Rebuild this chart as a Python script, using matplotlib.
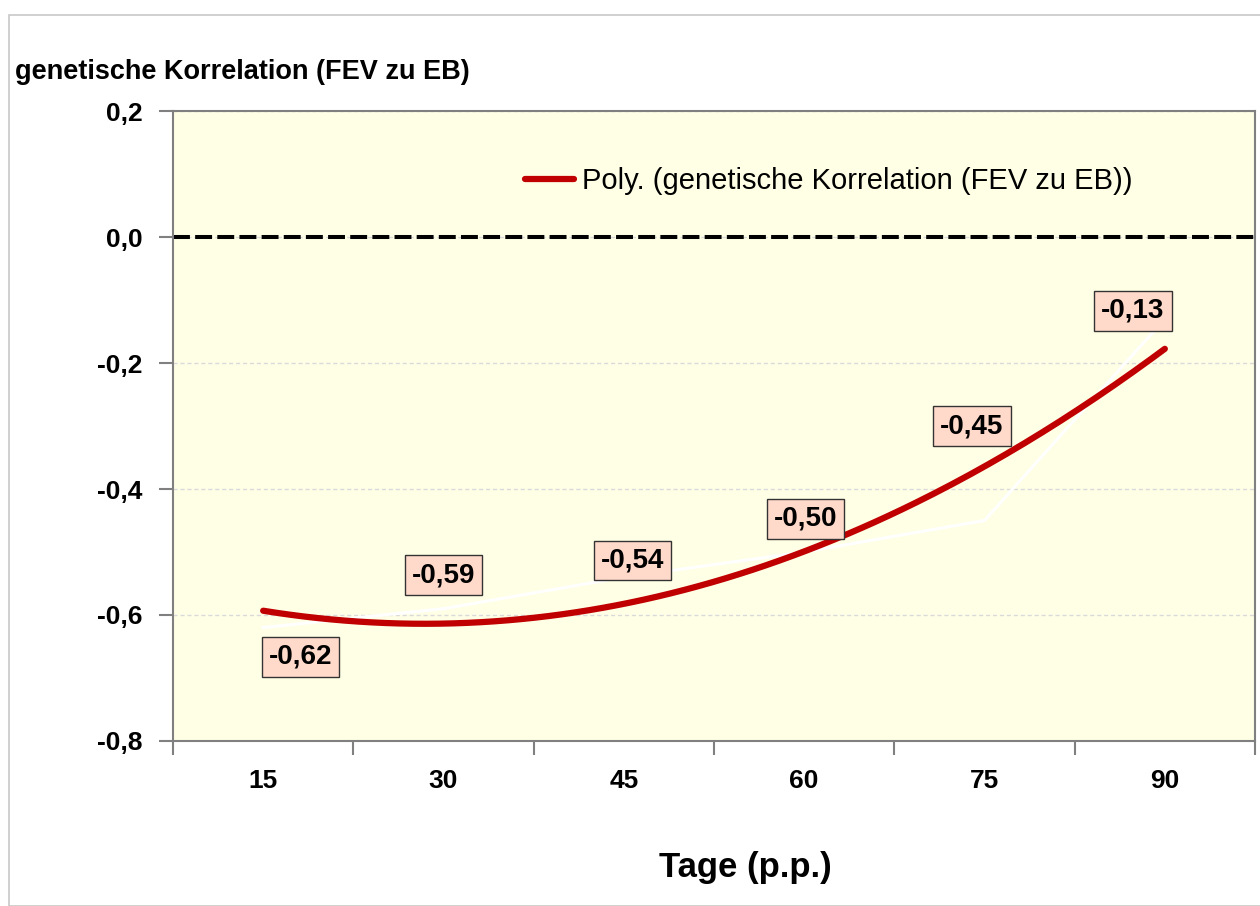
import numpy as np
import matplotlib.pyplot as plt
from matplotlib.patches import Rectangle

plt.rcParams['font.family'] = ['Liberation Sans', 'DejaVu Sans']

tage = ['15', '30', '45', '60', '75', '90']
korrelation = [-0.62, -0.59, -0.54, -0.50, -0.45, -0.13]
label_text = ['-0,62', '-0,59', '-0,54', '-0,50', '-0,45', '-0,13']
# label offsets in points (dx, dy)
label_off = [(27, -21), (0, 24), (6, 12), (1, 24), (-9, 68), (-23, 6)]

fig = plt.figure(figsize=(12.6, 9.06), dpi=100)
fig.patches.append(Rectangle((9 / 1260, 0), 1.0, 1 - 15 / 906, transform=fig.transFigure,
                             fill=False, edgecolor='#C8C8C8', lw=1.2))
ax = fig.add_axes([173 / 1260, 1 - 741 / 906, 1082 / 1260, 630 / 906])
ax.set_facecolor('#FFFFE6')

x = np.arange(1, len(tage) + 1)
y = np.array(korrelation)

# data line (white)
ax.plot(x, y, color='white', lw=2.2, zorder=3)

# polynomial trend, order 2
coef = np.polyfit(x, y, 2)
xs = np.linspace(1, 6, 200)
ax.plot(xs, np.polyval(coef, xs), color='#C00000', lw=4.5, solid_capstyle='round', zorder=4,
        label='Poly. (genetische Korrelation (FEV zu EB))')

ax.axhline(0, color='black', lw=2.9, linestyle=(0, (4.2, 1.3)), zorder=2)

for xi, yi, t, off in zip(x, y, label_text, label_off):
    ax.annotate(t, (xi, yi), xytext=off, textcoords='offset points', ha='center', va='center',
                fontsize=20, fontweight='bold', zorder=5,
                bbox=dict(boxstyle='square,pad=0.25', fc='#FFDACB', ec='#333333', lw=1))

ax.set_xlim(0.5, 6.5)
ax.set_ylim(-0.8, 0.2)
ax.set_yticks(np.arange(-0.8, 0.21, 0.2))
ax.set_yticklabels(['-0,8', '-0,6', '-0,4', '-0,2', '0,0', '0,2'])
ax.set_xticks(np.arange(0.5, 6.6, 1))
ax.set_xticklabels([])
ax.set_xticks(x, minor=True)
ax.set_xticklabels(tage, minor=True)
ax.tick_params(axis='x', which='major', length=10, width=1.5, color='#808080', direction='out')
ax.tick_params(axis='x', which='minor', length=0, pad=20, labelsize=19)
ax.tick_params(axis='y', length=10, width=1.5, color='#808080', pad=12, labelsize=19)
for lbl in ax.get_xticklabels(minor=True) + ax.get_yticklabels():
    lbl.set_fontweight('bold')

ax.grid(axis='y', color='#DADADA', linestyle=(0, (3, 2)), lw=1)
for s in ax.spines.values():
    s.set_color('#808080')
    s.set_linewidth(1.5)

ax.legend(loc='center left', bbox_to_anchor=(0.325, 0.889), frameon=False, fontsize=21,
          handlelength=1.7, handletextpad=0.25, borderaxespad=0, borderpad=0)

fig.text(15 / 1260, 1 - 72 / 906, 'genetische Korrelation (FEV zu EB)', fontsize=19.5,
         fontweight='bold', va='center', ha='left')
fig.text(745 / 1260, 1 - 868 / 906, 'Tage (p.p.)', fontsize=25, fontweight='bold',
         va='center', ha='center')

fig.savefig('out.png', dpi=100)
